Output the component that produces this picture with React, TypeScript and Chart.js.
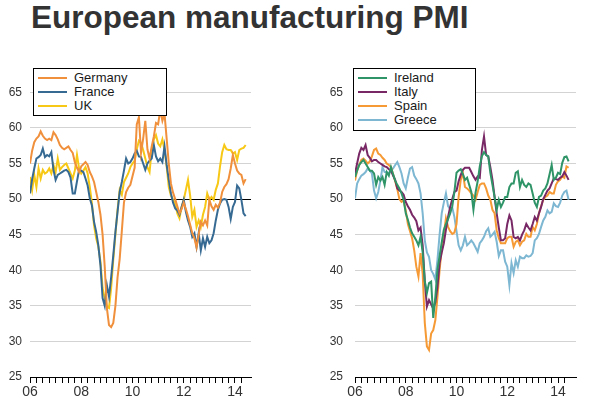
import React, { useEffect, useRef } from "react";
import { Chart, registerables } from "chart.js";

Chart.register(...registerables);

const FONT = "'Liberation Sans', Arial, sans-serif";

const yearTicks = ["06", "08", "10", "12", "14"];

const germany = [55.0, 56.8, 58.0, 58.5, 58.8, 59.5, 58.9, 58.5, 58.3, 58.5,
  58.3, 59.4, 59.0, 58.4, 57.6, 57.2, 57.0, 57.2, 57.4, 56.9,
  56.5, 55.2, 54.4, 53.8, 54.6, 54.9, 55.2, 54.8, 53.8, 53.2,
  52.4, 51.0, 49.6, 47.8, 45.0, 40.5, 34.7, 32.3, 32.0, 32.6,
  35.0, 39.0, 41.6, 45.5, 49.5, 51.0, 51.6, 52.0, 53.2, 54.4,
  60.5, 61.5, 56.5, 58.5, 61.0, 57.0, 55.7, 57.4, 58.8, 60.7,
  60.5, 62.5, 61.0, 62.0, 58.5, 55.0, 52.2, 50.9, 50.0, 49.0,
  48.0, 48.6, 49.5, 48.6, 47.6, 46.4, 45.2, 44.5, 43.2, 45.0,
  46.8, 46.3, 47.0, 46.3, 49.9, 49.0, 48.5, 49.2, 48.8, 49.5,
  51.0, 51.7, 52.1, 52.8, 54.3, 56.2, 55.0, 54.0, 53.6, 53.4,
  52.2, 52.8];

const france = [50.8, 52.8, 54.3, 55.7, 55.9, 56.2, 57.1, 55.9, 56.2, 56.0,
  56.6, 54.1, 52.7, 53.4, 53.6, 53.8, 54.0, 54.1, 53.8, 53.0,
  50.8, 50.8, 52.5, 54.1, 54.0, 53.8, 52.9, 51.9, 50.1, 49.1,
  46.8, 45.4, 43.5, 40.7, 36.1, 35.0, 37.9, 36.3, 39.0, 42.1,
  45.4, 48.2, 51.0, 52.4, 54.0, 55.7, 55.0, 55.2, 55.7, 56.4,
  56.8, 56.0, 55.9, 55.0, 54.1, 55.0, 55.4, 55.7, 57.6, 56.0,
  55.3, 55.7, 55.2, 57.4, 54.8, 52.7, 50.8, 49.5, 48.7, 48.4,
  47.8, 48.9, 49.9, 48.2, 47.0, 46.1, 44.7, 45.2, 43.3, 45.2,
  42.8, 44.5, 43.3, 44.7, 43.8, 44.2, 45.2, 47.0, 48.5, 49.4,
  49.9, 50.0, 49.9, 48.9, 47.2, 48.9, 49.6, 51.9, 51.5, 49.9,
  48.0, 47.6];

const uk = [53.1, 51.3, 53.4, 51.7, 54.3, 52.9, 54.1, 53.6, 53.8, 54.3,
  53.6, 54.8, 53.8, 55.7, 54.1, 54.5, 54.8, 55.0, 54.3, 53.6,
  52.9, 54.0, 56.2, 54.3, 53.6, 54.0, 54.5, 53.6, 51.7, 49.4,
  46.3, 44.5, 43.3, 41.2, 37.5, 36.1, 34.9, 34.7, 37.5, 41.5,
  45.0, 48.5, 51.3, 50.6, 52.4, 53.0, 53.6, 54.5, 55.0, 55.4,
  57.0, 58.2, 57.9, 56.9, 55.7, 54.5, 53.8, 56.9, 58.4, 59.0,
  57.8, 57.4, 58.4, 56.9, 54.6, 51.7, 50.5, 49.9, 49.4, 48.0,
  47.3, 48.9, 49.9, 51.3, 52.7, 50.5, 47.5, 48.5, 46.1, 47.0,
  46.1, 47.8, 48.9, 50.8, 49.9, 50.3, 49.9, 51.3, 52.2, 54.6,
  56.6, 57.6, 57.0, 56.9, 56.9, 56.4, 56.6, 55.5, 56.9, 57.1,
  57.2, 57.6];

const ireland = [53.1, 54.0, 54.8, 55.2, 55.5, 55.0, 54.5, 54.0, 54.0, 53.6,
  52.0, 53.1, 52.6, 53.1, 52.0, 53.8, 53.3, 54.5, 53.5, 52.6,
  52.0, 51.5, 50.8, 49.9, 48.0, 47.1, 46.0, 45.2, 44.7, 44.2,
  43.5, 44.7, 42.5, 38.5, 36.8, 38.2, 38.4, 33.3, 36.3, 40.1,
  42.0, 43.9, 45.7, 46.5, 47.2, 48.0, 49.0, 51.0, 53.7, 54.0,
  54.2, 53.5, 52.7, 53.0, 52.0, 51.0, 48.5, 50.9, 52.5, 54.6,
  56.0, 56.6, 56.2, 56.0, 53.7, 52.0, 50.3, 48.5, 49.9, 48.9,
  49.5, 50.3, 50.3, 51.7, 52.2, 52.2, 53.7, 53.9, 51.7, 52.7,
  52.0, 51.7, 52.2, 52.0, 50.8, 49.5, 48.9, 50.3, 50.5, 51.2,
  51.5, 52.2, 53.5, 54.8, 52.7, 53.0, 53.7, 53.5, 55.1, 55.9,
  56.0, 55.3];

const italy = [53.6, 55.0, 56.4, 57.2, 56.9, 57.6, 56.2, 55.8, 55.3, 55.5,
  55.5, 55.2, 55.0, 54.8, 54.6, 54.5, 54.2, 54.0, 53.3, 52.7,
  51.5, 51.2, 51.0, 50.6, 49.6, 49.0, 48.5, 47.8, 47.4, 46.9,
  45.6, 46.0, 43.5, 38.5, 34.9, 35.8, 35.2, 34.6, 35.5, 37.7,
  41.0, 42.5, 43.8, 45.7, 47.5, 48.9, 50.0, 51.0, 51.2, 52.5,
  53.4, 54.1, 54.4, 54.4, 54.4, 53.8, 53.2, 52.7, 53.2, 53.0,
  56.9, 58.8, 56.2, 56.0, 54.5, 52.7, 50.3, 48.0, 46.0, 44.2,
  44.2, 44.5, 46.5, 47.7, 47.0, 44.7, 44.5, 44.7, 44.2, 45.0,
  45.6, 46.5, 46.0, 45.6, 46.5, 47.5, 47.0, 48.0, 48.9, 50.0,
  50.6, 51.2, 51.5, 52.2, 52.9, 52.8, 52.7, 53.0, 53.2, 53.8,
  53.3, 52.7];

const spain = [52.6, 54.0, 54.8, 55.5, 55.7, 55.4, 55.0, 55.3, 56.0, 56.9,
  57.1, 56.4, 56.2, 55.8, 55.5, 55.0, 54.8, 54.5, 53.5, 52.5,
  51.4, 50.0, 49.6, 49.8, 48.4, 46.5, 45.5, 44.5, 42.8, 40.5,
  39.1, 42.4, 39.5, 32.6, 29.3, 28.8, 31.1, 31.6, 33.0, 36.3,
  40.0, 43.0, 45.1, 47.3, 46.1, 45.5, 45.1, 45.3, 46.5, 50.3,
  52.7, 53.7, 51.7, 51.5, 51.2, 50.8, 50.5, 49.9, 51.0, 52.0,
  52.2, 52.2, 51.5, 50.5, 49.9, 48.5, 48.0, 45.6, 44.5, 43.8,
  43.8, 43.8, 44.5, 44.7, 44.7, 43.3, 44.0, 44.2, 43.5, 44.0,
  44.2, 45.1, 44.7, 44.7, 46.1, 45.6, 46.5, 48.0, 49.0, 49.9,
  50.3, 50.5, 51.0, 50.8, 50.8, 52.0, 52.5, 52.7, 53.2, 53.0,
  54.6, 54.4];

const greece = [50.1, 52.2, 52.8, 53.3, 53.5, 53.8, 54.3, 54.0, 53.6, 51.2,
  50.1, 51.0, 52.6, 54.5, 53.8, 53.8, 53.6, 54.0, 54.3, 54.8,
  55.2, 54.5, 53.6, 52.2, 51.5, 53.0, 54.3, 54.5, 53.3, 52.8,
  52.2, 50.8, 48.0, 44.2, 42.5, 41.9, 40.0, 39.5, 38.7, 41.5,
  45.0, 48.0, 49.5, 50.8, 49.0, 48.6, 48.8, 47.5, 45.5, 43.5,
  42.8, 43.5, 44.7, 43.5, 43.8, 44.2, 43.8, 43.2, 42.6, 43.8,
  44.2, 44.7, 45.5, 45.9, 44.7, 45.0, 45.4, 44.0, 42.0, 42.8,
  42.8, 41.2, 40.5, 37.9, 41.0, 39.6, 41.4, 40.5, 41.9, 41.7,
  41.7, 42.1, 41.9, 42.0, 42.4, 44.2, 44.5, 45.1, 46.1, 47.0,
  47.5, 48.4, 48.0, 48.2, 49.4, 49.0, 48.9, 49.5, 50.5, 51.0,
  51.2, 49.9];

type Series = { name: string; color: string; values: number[] };

const leftSeries: Series[] = [
  { name: "Germany", color: "#F0903C", values: germany },
  { name: "France", color: "#366A93", values: france },
  { name: "UK", color: "#F7C815", values: uk },
];

const rightSeries: Series[] = [
  { name: "Ireland", color: "#2F9467", values: ireland },
  { name: "Italy", color: "#782865", values: italy },
  { name: "Spain", color: "#F59A35", values: spain },
  { name: "Greece", color: "#7DB7D2", values: greece },
];

function makeConfig(series: Series[], yAxisWidth: number, labelGap: number, xMax: number, padRight: number): any {
  const datasets = series.map((s, idx) => ({
    label: s.name,
    data: s.values.map((v, i) => ({ x: i, y: v })),
    borderColor: s.color,
    backgroundColor: s.color,
    borderWidth: 2,
    pointRadius: 0,
    tension: 0,
    fill: false,
    order: idx,
  }));
  return {
    type: "line",
    data: { datasets },
    options: {
      animation: false,
      responsive: false,
      maintainAspectRatio: false,
      layout: { padding: { top: 11, right: padRight, left: 0, bottom: 0 } },
      plugins: { legend: { display: false }, tooltip: { enabled: false }, title: { display: false } },
      scales: {
        x: {
          type: "linear",
          min: 0,
          max: xMax,
          afterBuildTicks: (s: any) => {
            s.ticks = s.ticks.filter((t: any) => Number.isInteger(t.value) && t.value % 3 === 0);
          },
          afterFit: (s: any) => {
            s.height = 25;
          },
          ticks: {
            stepSize: 3,
            autoSkip: false,
            maxRotation: 0,
            minRotation: 0,
            padding: 1,
            color: "#333",
            font: { family: FONT, size: 14 },
            callback: (v: number) => (v % 24 === 0 ? yearTicks[v / 24] ?? "" : ""),
          },
          grid: { drawOnChartArea: false, drawTicks: true, tickLength: 6, color: "#000", lineWidth: 1 },
          border: { display: true, color: "#000", width: 1 },
        },
        y: {
          min: 25,
          max: 68,
          afterBuildTicks: (s: any) => {
            s.ticks = s.ticks.filter((t: any) => t.value % 5 === 0);
          },
          afterFit: (s: any) => {
            s.width = yAxisWidth;
          },
          ticks: {
            stepSize: 5,
            padding: 0,
            color: "#333",
            font: { family: FONT, size: 12 },
          },
          grid: {
            drawTicks: true,
            tickLength: labelGap,
            tickColor: "rgba(0,0,0,0)",
            color: (ctx: any) => {
              const v = ctx.tick ? ctx.tick.value : null;
              if (v === 50) return "#000";
              if (v === 25) return "rgba(0,0,0,0)";
              return "#d3d3d3";
            },
            lineWidth: 1,
          },
          border: { display: false },
        },
      },
    },
  };
}

function ChartBox(props: { series: Series[]; left: number; width: number; yAxisWidth: number; labelGap: number; xMax: number; padRight: number }) {
  const ref = useRef<HTMLCanvasElement | null>(null);
  useEffect(() => {
    if (!ref.current) return;
    const chart = new Chart(ref.current, makeConfig(props.series, props.yAxisWidth, props.labelGap, props.xMax, props.padRight));
    return () => chart.destroy();
  }, []);
  return (
    <canvas
      ref={ref}
      width={props.width}
      height={342}
      style={{ position: "absolute", left: props.left, top: 60, width: props.width, height: 342 }}
    />
  );
}

function Legend(props: { series: Series[]; left: number; width: number }) {
  const rowH = 14.2;
  const height = 20 + rowH * (props.series.length - 1);
  return (
    <div
      style={{
        position: "absolute",
        left: props.left,
        top: 68,
        width: props.width,
        height: Math.round(height),
        border: "1px solid #000",
        background: "#fff",
        boxSizing: "border-box",
      }}
    >
      {props.series.map((s, i) => {
        const cy = 8.5 + rowH * i;
        return (
          <React.Fragment key={s.name}>
            <div
              style={{
                position: "absolute",
                left: 4,
                top: cy - 1,
                width: 29,
                height: 2,
                background: s.color,
              }}
            />
            <div
              style={{
                position: "absolute",
                left: 40,
                top: cy - 8,
                fontFamily: FONT,
                fontSize: 13,
                lineHeight: "16px",
                color: "#1a1a1a",
                whiteSpace: "nowrap",
              }}
            >
              {s.name}
            </div>
          </React.Fragment>
        );
      })}
    </div>
  );
}

export default function App() {
  return (
    <div style={{ position: "absolute", left: 0, top: 0, width: 589, height: 402, background: "#fff", overflow: "hidden" }}>
      <div
        style={{
          position: "absolute",
          left: 31,
          top: 2,
          fontFamily: FONT,
          fontWeight: "bold",
          fontSize: 31.5,
          lineHeight: "31px",
          color: "#333",
          whiteSpace: "nowrap",
        }}
      >
        European manufacturing PMI
      </div>
      <ChartBox series={leftSeries} left={0} width={300} yAxisWidth={30} labelGap={8} xMax={103.5} padRight={49} />
      <ChartBox series={rightSeries} left={300} width={289} yAxisWidth={55} labelGap={12} xMax={104.5} padRight={13} />
      <Legend series={leftSeries} left={33} width={134} />
      <Legend series={rightSeries} left={353} width={123} />
    </div>
  );
}
